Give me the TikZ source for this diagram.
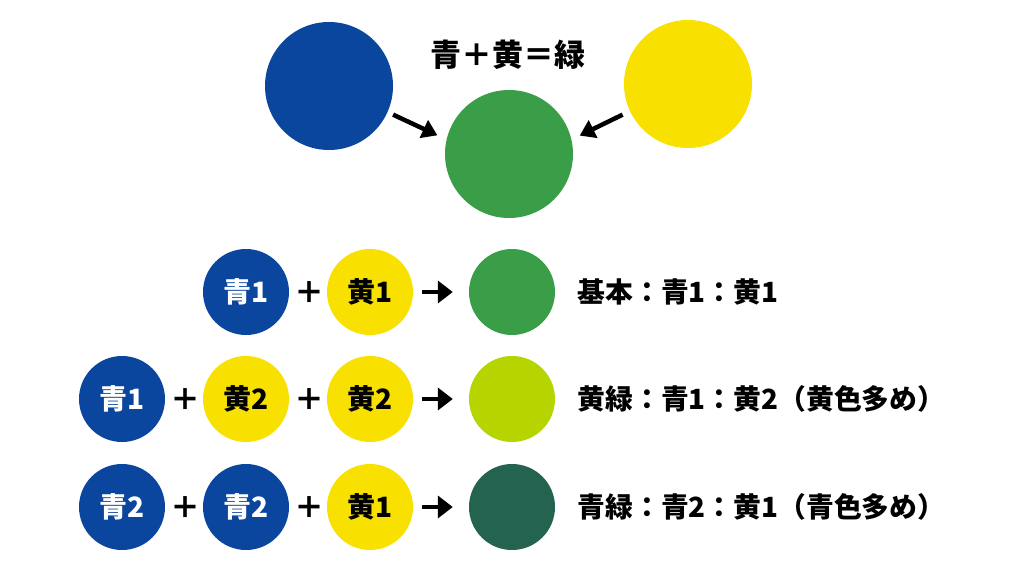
\documentclass[tikz,border=0pt]{standalone}
\usepackage{fontspec}
\setmainfont{Noto Sans CJK JP}
\usetikzlibrary{positioning, arrows.meta}
\definecolor{aoblue}{HTML}{0A469E}
\definecolor{kiyellow}{HTML}{F8E100}
\definecolor{midori}{HTML}{3A9D48}
\definecolor{kimidori}{HTML}{B6D400}
\definecolor{aomidori}{HTML}{23634F}

\begin{document}
\begin{tikzpicture}
	[x=1pt, y=-1pt,
	 ao/.style={circle, fill=aoblue, text=white, minimum size=86pt, inner sep=0pt, font=\bfseries\fontsize{28}{28}\selectfont},
	 ki/.style={ao, fill=kiyellow, text=black},
	 mix/.style={circle, minimum size=86pt, inner sep=0pt},
	 big/.style={circle, minimum size=128pt, inner sep=0pt},
	 op/.style={font=\bfseries\fontsize{30}{30}\selectfont},
	 yaji/.style={-{Triangle[length=15pt,width=19pt]}, line width=4.5pt},
	 note/.style={font=\bfseries\fontsize{27.8}{28}\selectfont}]
	\useasboundingbox (0,0) rectangle (1024,572);
	% top %
	\node[big, fill=aoblue] (ao) at (329,86) {};
	\node[big, fill=kiyellow] (ki) at (688,84) {};
	\node[big, fill=midori] (midori) at (509,154) {};
	\node[font=\bfseries\fontsize{31}{31}\selectfont] (title) at (508,55) {青＋黄＝緑};
	\draw[yaji, shorten <=6pt, shorten >=10pt] (ao.-24) -- (midori.167);
	\draw[yaji, shorten <=8pt, shorten >=9pt] (ki.205) -- (midori.13);

	% rows %
	\node[ao] (a11) at (246,292) {青1};
	\node[op] (p11) at (309,293) {＋};
	\node[ki] (k11) at (370,292) {黄1};
	\node[mix, fill=midori] (r1) at (512,292) {};
	\node[note, right=19pt of r1, anchor=west] (n1) {基本：青1：黄1};

	\node[ao] (a21) at (122,399) {青1};
	\node[op] (p21) at (185,400) {＋};
	\node[ki] (k21) at (246,399) {黄2};
	\node[op] (p22) at (309,400) {＋};
	\node[ki] (k22) at (370,399) {黄2};
	\node[mix, fill=kimidori] (r2) at (512,399) {};
	\node[note, right=19pt of r2, anchor=west] (n2) {黄緑：青1：黄2（黄色多め）};

	\node[ao] (a31) at (122,507) {青2};
	\node[op] (p31) at (185,508) {＋};
	\node[ao] (a32) at (246,507) {青2};
	\node[op] (p32) at (309,508) {＋};
	\node[ki] (k31) at (370,507) {黄1};
	\node[mix, fill=aomidori] (r3) at (512,507) {};
	\node[note, right=19pt of r3, anchor=west] (n3) {青緑：青2：黄1（青色多め）};

	% edges %
	\draw[yaji, -{Triangle[length=15pt,width=22pt]}, shorten <=9pt, shorten >=16pt] (k11) -- (r1);
	\draw[yaji, -{Triangle[length=15pt,width=22pt]}, shorten <=9pt, shorten >=16pt] (k22) -- (r2);
	\draw[yaji, -{Triangle[length=15pt,width=22pt]}, shorten <=9pt, shorten >=16pt] (k31) -- (r3);
\end{tikzpicture}
\end{document}
